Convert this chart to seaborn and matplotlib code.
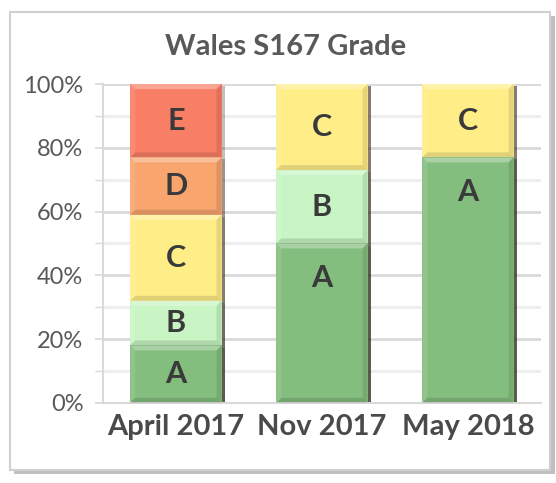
import numpy as np
import pandas as pd
import seaborn as sns
import matplotlib.pyplot as plt
from matplotlib import patheffects as pe
from matplotlib.patches import FancyBboxPatch, Polygon
from matplotlib.ticker import PercentFormatter, MultipleLocator

# data (share of each grade)
dates = ['April 2017', 'Nov 2017', 'May 2018']
grades = ['A', 'B', 'C', 'D', 'E']
grade_a = [0.18, 0.50, 0.77]
grade_b = [0.14, 0.23, 0.00]
grade_c = [0.27, 0.27, 0.23]
grade_d = [0.18, 0.00, 0.00]
grade_e = [0.23, 0.00, 0.00]
colors = ['#84BE7E', '#C8F5C3', '#FFEE88', '#F8A56E', '#F97E66']

sns.set_theme(style='white')
plt.rcParams['font.family'] = ['Lato', 'DejaVu Sans']

df = pd.DataFrame({'date': dates, 'A': grade_a, 'B': grade_b, 'C': grade_c,
                   'D': grade_d, 'E': grade_e})
cum = df[grades].cumsum(axis=1)
cum['date'] = df['date']

BAR_W = 0.625

fig = plt.figure(figsize=(5.56, 4.83), dpi=100)
# chart border with shadow
frame = FancyBboxPatch((0.018, 0.027), 0.972, 0.948, transform=fig.transFigure,
                       boxstyle='square,pad=0', fc='white', ec='#D0D0D0', lw=1.5,
                       zorder=-5,
                       path_effects=[pe.SimplePatchShadow(offset=(3, -3), alpha=0.35),
                                     pe.Normal()])
fig.patches.append(frame)

ax = fig.add_axes([0.185, 0.166, 0.788, 0.66])
ax.set_facecolor('none')

shadow = [pe.SimplePatchShadow(offset=(2.5, -1.5), alpha=0.3), pe.Normal()]
# draw cumulative totals top grade first so lower grades cover them
for g, c in zip(grades[::-1], colors[::-1]):
    sns.barplot(data=cum, x='date', y=g, color=c, width=BAR_W, ax=ax,
                saturation=1, linewidth=0)
for p in ax.patches:
    p.set_path_effects(shadow)

ax.set_ylim(0, 1)
ax.set_xlim(-0.5, 2.5)

# bevel look on every segment
bx = 5 / (ax.get_position().width * fig.get_figwidth() * fig.dpi) * 3
by = 5 / (ax.get_position().height * fig.get_figheight() * fig.dpi)
for i in range(len(dates)):
    bottom = 0
    for g in grades:
        v = df.loc[i, g]
        if v > 0:
            x0, x1 = i - BAR_W / 2, i + BAR_W / 2
            y0, y1 = bottom, bottom + v
            faces = [
                ([(x0, y1), (x1, y1), (x1 - bx, y1 - by), (x0 + bx, y1 - by)], 'white', 0.3),
                ([(x0, y0), (x0, y1), (x0 + bx, y1 - by), (x0 + bx, y0 + by)], 'white', 0.1),
                ([(x1, y0), (x1, y1), (x1 - bx, y1 - by), (x1 - bx, y0 + by)], 'black', 0.1),
                ([(x0, y0), (x1, y0), (x1 - bx, y0 + by), (x0 + bx, y0 + by)], 'black', 0.12),
            ]
            for pts, fc, a in faces:
                ax.add_patch(Polygon(pts, closed=True, fc=fc, alpha=a, lw=0, zorder=3))
            if v > 0.4:
                y = y1 - 0.11
            else:
                y = y0 + v / 2
            ax.text(i, y, g, ha='center', va='center', fontsize=22,
                    fontweight='bold', color='#3a3a3a', zorder=4)
        bottom += v

ax.yaxis.set_major_locator(MultipleLocator(0.2))
ax.yaxis.set_minor_locator(MultipleLocator(0.1))
ax.yaxis.set_major_formatter(PercentFormatter(1.0, decimals=0))
ax.grid(axis='y', which='major', color='#D9D9D9', lw=2)
ax.grid(axis='y', which='minor', color='#EDEDED', lw=2)
ax.set_axisbelow(True)
for s in ['top', 'right']:
    ax.spines[s].set_visible(False)
for s in ['left', 'bottom']:
    ax.spines[s].set_color('#D9D9D9')
    ax.spines[s].set_linewidth(1.5)
ax.tick_params(axis='y', which='both', left=True, length=6, color='#D9D9D9',
               labelsize=17, labelcolor='#595959', pad=8)
ax.tick_params(axis='x', length=0, labelsize=21, labelcolor='#4a4a4a', pad=8)
for lbl in ax.get_xticklabels():
    lbl.set_fontweight('bold')
ax.set_xlabel('')
ax.set_ylabel('')

fig.text(0.513, 0.902, 'Wales S167 Grade', ha='center', va='center',
         fontsize=21, fontweight='bold', color='#595959')

fig.savefig('out.png', dpi=100)
